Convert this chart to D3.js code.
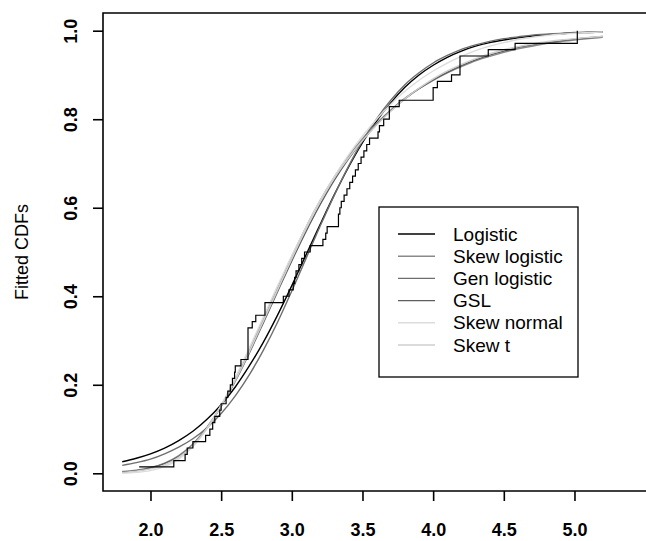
<!DOCTYPE html>
<html>
<head>
<meta charset="utf-8">
<script src="https://cdn.jsdelivr.net/npm/d3@7/dist/d3.min.js"></script>
<style>
  html, body { margin: 0; padding: 0; background: #fff; }
  svg { display: block; }
  text { font-family: "Liberation Sans", Arial, Helvetica, sans-serif; }
</style>
</head>
<body>
<svg id="chart" width="646" height="541"></svg>
<script>
// ---------- data ----------
// sorted observations behind the empirical CDF (step line)
const sample = [
  1.92, 2.165, 2.245, 2.26, 2.30, 2.39, 2.42, 2.44, 2.455, 2.49,
  2.50, 2.535, 2.547, 2.565, 2.58, 2.595, 2.60, 2.64, 2.69, 2.69,
  2.69, 2.69, 2.69, 2.72, 2.745, 2.81, 2.81, 2.94, 2.98, 3.01,
  3.02, 3.03, 3.05, 3.07, 3.09, 3.13, 3.22, 3.24, 3.25, 3.33,
  3.33, 3.34, 3.35, 3.37, 3.39, 3.41, 3.43, 3.45, 3.47, 3.49,
  3.51, 3.53, 3.55, 3.61, 3.62, 3.65, 3.69, 3.69, 3.76, 4.00,
  4.00, 4.03, 4.13, 4.19, 4.19, 4.19, 4.39, 4.58, 5.02, 5.02
];

// x positions where the fitted CDFs were read
const gridX = [1.8, 1.9, 2.0, 2.1, 2.2, 2.3, 2.4, 2.5, 2.6, 2.7, 2.8, 2.9, 3.0, 3.1, 3.2, 3.3, 3.4, 3.5,
               3.6, 3.7, 3.8, 3.9, 4.0, 4.1, 4.2, 4.3, 4.4, 4.5, 4.6, 4.7, 4.8, 4.9, 5.0, 5.1, 5.2];

const logistic = [0.026, 0.034, 0.044, 0.057, 0.074, 0.095, 0.122, 0.155, 0.195, 0.243, 0.297, 0.358,
                  0.424, 0.493, 0.562, 0.629, 0.691, 0.747, 0.796, 0.837, 0.872, 0.900, 0.922, 0.940,
                  0.954, 0.965, 0.973, 0.979, 0.984, 0.988, 0.991, 0.993, 0.995, 0.996, 0.997];
const skewLogistic = [0.004, 0.007, 0.013, 0.023, 0.040, 0.066, 0.104, 0.153, 0.212, 0.278, 0.349, 0.420,
                      0.490, 0.556, 0.616, 0.669, 0.716, 0.756, 0.791, 0.821, 0.847, 0.869, 0.888, 0.905,
                      0.919, 0.932, 0.942, 0.951, 0.959, 0.965, 0.971, 0.975, 0.979, 0.982, 0.985];
const genLogistic = [0.018, 0.024, 0.032, 0.044, 0.059, 0.078, 0.103, 0.135, 0.175, 0.223, 0.279, 0.342,
                     0.412, 0.485, 0.558, 0.628, 0.693, 0.751, 0.801, 0.843, 0.878, 0.905, 0.927, 0.944,
                     0.958, 0.968, 0.976, 0.982, 0.986, 0.990, 0.992, 0.994, 0.996, 0.997, 0.998];
const gsl = [0.003, 0.006, 0.012, 0.022, 0.038, 0.064, 0.102, 0.151, 0.208, 0.272, 0.341, 0.411,
             0.480, 0.546, 0.607, 0.662, 0.710, 0.752, 0.788, 0.819, 0.846, 0.869, 0.889, 0.906,
             0.921, 0.934, 0.945, 0.954, 0.962, 0.968, 0.973, 0.977, 0.981, 0.984, 0.987];
const skewNormal = [0.000, 0.002, 0.006, 0.015, 0.032, 0.060, 0.101, 0.154, 0.216, 0.284, 0.354, 0.424,
                    0.492, 0.556, 0.616, 0.670, 0.719, 0.762, 0.800, 0.834, 0.863, 0.888, 0.909, 0.927,
                    0.942, 0.955, 0.965, 0.973, 0.980, 0.985, 0.989, 0.992, 0.994, 0.996, 0.997];
const skewT = [0.002, 0.005, 0.010, 0.019, 0.036, 0.063, 0.102, 0.153, 0.210, 0.275, 0.345, 0.415,
               0.485, 0.552, 0.613, 0.667, 0.712, 0.752, 0.787, 0.818, 0.846, 0.870, 0.891, 0.909,
               0.924, 0.937, 0.948, 0.957, 0.964, 0.970, 0.975, 0.979, 0.982, 0.985, 0.987];

const seriesNames = ["Logistic", "Skew logistic", "Gen logistic", "GSL", "Skew normal", "Skew t"];
const seriesValues = [logistic, skewLogistic, genLogistic, gsl, skewNormal, skewT];
const seriesColors = ["#000000", "#8a8a8a", "#6e6e6e", "#5e5e5e", "#dcdcdc", "#cfcfcf"];

const xTicks = [2.0, 2.5, 3.0, 3.5, 4.0, 4.5, 5.0];
const yTicks = [0.0, 0.2, 0.4, 0.6, 0.8, 1.0];
const yLabel = "Fitted CDFs";

// ---------- layout ----------
const svg = d3.select("#chart");
const W = 646, H = 541;
const mLeft = 103, mTop = 13, mBottom = 491;
const xDomain = [1.664, 5.336];
const x = d3.scaleLinear().domain(xDomain).range([mLeft, mLeft + (xDomain[1] - xDomain[0]) * 141.33]);
const y = d3.scaleLinear().domain([-0.04, 1.04]).range([mBottom, mTop]);

svg.append("rect").attr("width", W).attr("height", H).attr("fill", "#fff");

const plot = svg.append("g");

// fitted curves
const line = d3.line().x(d => x(d[0])).y(d => y(d[1])).curve(d3.curveMonotoneX);
seriesValues.forEach((vals, i) => {
  plot.append("path")
    .datum(gridX.map((xv, j) => [xv, vals[j]]))
    .attr("fill", "none")
    .attr("stroke", seriesColors[i])
    .attr("stroke-width", 1.4)
    .attr("d", line);
});

// empirical CDF as a step line
const n = sample.length;
const uniq = Array.from(new Set(sample)).sort(d3.ascending);
const steps = uniq.map(v => [v, d3.bisectRight(sample, v) / n]);
const stepLine = d3.line().x(d => x(d[0])).y(d => y(d[1])).curve(d3.curveStepAfter);
plot.append("path")
  .datum(steps)
  .attr("fill", "none")
  .attr("stroke", "#000")
  .attr("stroke-width", 1.2)
  .attr("d", stepLine);

// box (right side lies beyond the picture)
svg.append("path")
  .attr("d", `M${W + 20},${mTop}H${mLeft}V${mBottom}H${W + 20}`)
  .attr("fill", "none").attr("stroke", "#000").attr("stroke-width", 1.6);

// x axis
const xAxis = svg.append("g")
  .attr("transform", `translate(0,${mBottom})`)
  .call(d3.axisBottom(x).tickValues(xTicks).tickSize(10).tickPadding(22).tickFormat(d3.format(".1f")));
xAxis.select(".domain").remove();
xAxis.selectAll("line").attr("stroke", "#000").attr("stroke-width", 1.6);
xAxis.selectAll("text").attr("font-size", 18).attr("font-weight", "bold").attr("fill", "#000")
  .style("font-family", "'Liberation Sans', Arial, sans-serif");

// y axis
const yAxis = svg.append("g")
  .attr("transform", `translate(${mLeft},0)`)
  .call(d3.axisLeft(y).tickValues(yTicks).tickSize(10).tickFormat(d3.format(".1f")));
yAxis.select(".domain").remove();
yAxis.selectAll("line").attr("stroke", "#000").attr("stroke-width", 1.6);
yAxis.selectAll("text")
  .attr("x", null).attr("dy", null)
  .attr("text-anchor", "middle")
  .attr("transform", "translate(-26,0) rotate(-90)")
  .attr("y", 0)
  .attr("font-size", 18).attr("font-weight", "bold").attr("fill", "#000")
  .style("font-family", "'Liberation Sans', Arial, sans-serif");

// y label
svg.append("text")
  .attr("transform", `translate(28,${(mTop + mBottom) / 2}) rotate(-90)`)
  .attr("text-anchor", "middle")
  .attr("font-size", 18)
  .attr("fill", "#000")
  .text(yLabel);

// legend
const lg = svg.append("g");
const lgX0 = 379, lgY0 = 207, lgW = 199, lgH = 170;
lg.append("rect").attr("x", lgX0).attr("y", lgY0).attr("width", lgW).attr("height", lgH)
  .attr("fill", "#fff").attr("stroke", "#000").attr("stroke-width", 1.3);
seriesNames.forEach((name, i) => {
  const cy = 234 + i * 22.2;
  lg.append("line").attr("x1", 398).attr("x2", 435).attr("y1", cy).attr("y2", cy)
    .attr("stroke", seriesColors[i]).attr("stroke-width", 1.4);
  lg.append("text").attr("x", 453).attr("y", cy).attr("dy", "0.35em")
    .attr("font-size", 19).attr("fill", "#000").text(name);
});
</script>
</body>
</html>
